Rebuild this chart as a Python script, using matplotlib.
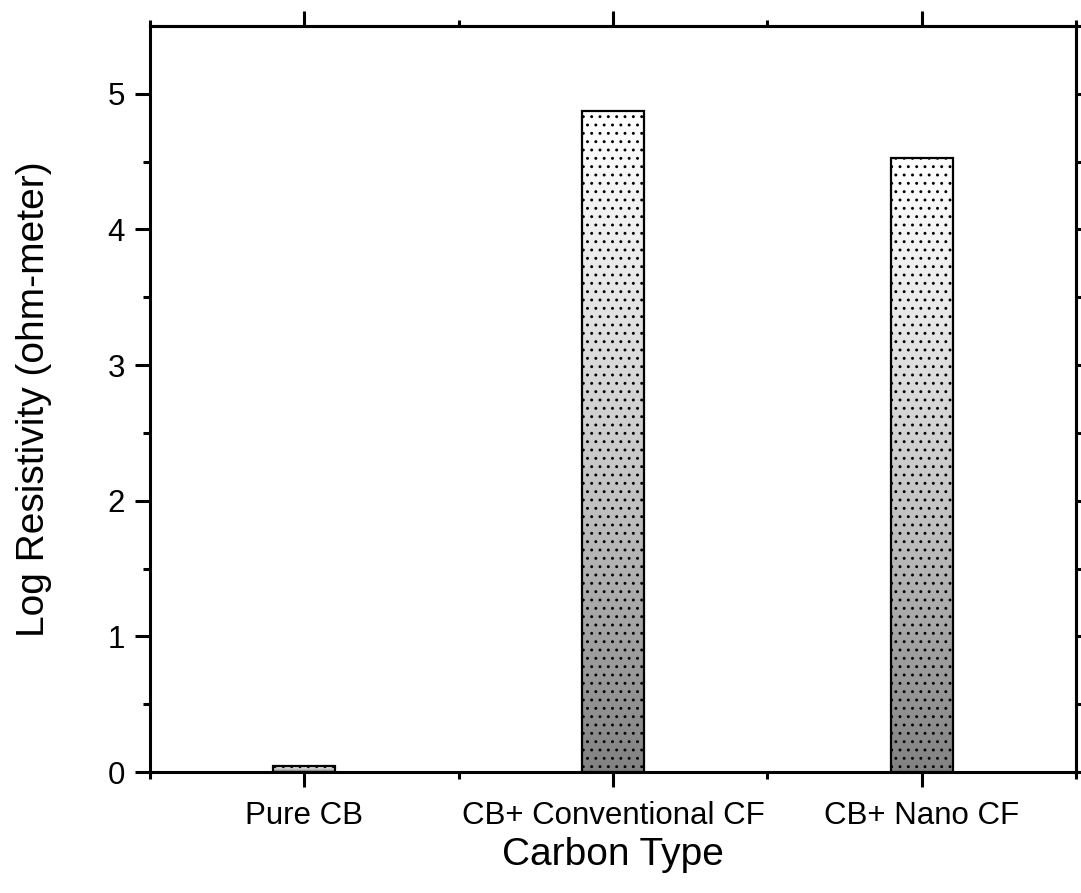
import numpy as np
import matplotlib
matplotlib.use("Agg")
import matplotlib.pyplot as plt
from matplotlib.colors import LinearSegmentedColormap

categories = ["Pure CB", "CB+ Conventional CF", "CB+ Nano CF"]
values = [0.045, 4.875, 4.53]

plt.rcParams['font.family'] = ['Liberation Sans', 'DejaVu Sans']
plt.rcParams['hatch.linewidth'] = 0.9
plt.rcParams['hatch.color'] = 'black'

fig = plt.figure(figsize=(10.81, 8.93), dpi=100)
ax = fig.add_axes([150/1081, 121/893, 926/1081, 746/893])

x = np.arange(1, len(categories) + 1)
width = 0.2
cmap = LinearSegmentedColormap.from_list(
    "g", [(0.0, "#828282"), (0.4, "#c0c0c0"), (0.75, "#e9e9e9"), (1.0, "#ffffff")])
grad = np.linspace(0, 1, 256).reshape(-1, 1)

bars = ax.bar(x, values, width=width, facecolor='none', edgecolor='black',
              linewidth=1.6, hatch='..', zorder=3)
for b in bars:
    x0, y0 = b.get_x(), b.get_y()
    w, h = b.get_width(), b.get_height()
    im = ax.imshow(grad, cmap=cmap, origin='lower', aspect='auto',
                   extent=[x0, x0 + w, y0, y0 + h], zorder=2)
    im.set_clip_path(b)

ax.set_xlim(0.5, 3.5)
ax.set_ylim(0, 5.5)
ax.set_xticks(x)
ax.set_xticklabels(categories)
ax.set_xticks([0.5, 1.5, 2.5, 3.5], minor=True)
ax.set_yticks(range(0, 6))
ax.set_yticks(np.arange(0.5, 5.5, 1.0), minor=True)

for s in ax.spines.values():
    s.set_linewidth(2.2)

ax.tick_params(axis='both', which='major', direction='out', length=10.5, width=2.2,
               labelsize=22.5)
ax.tick_params(axis='x', which='major', pad=10.5)
ax.tick_params(axis='y', which='major', pad=7.5)
ax.tick_params(axis='both', which='minor', direction='out', length=5, width=2.2)

top = ax.secondary_xaxis('top')
top.set_xticks(x)
top.set_xticks([0.5, 1.5, 2.5, 3.5], minor=True)
top.tick_params(which='major', direction='out', length=10.5, width=2.2, labeltop=False)
top.tick_params(which='minor', direction='out', length=4, width=2.2)
top.spines['top'].set_linewidth(2.2)

right = ax.secondary_yaxis('right')
right.set_yticks(np.arange(0, 5.51, 0.5))
right.tick_params(which='major', direction='out', length=4, width=2.2, labelright=False)
right.spines['right'].set_linewidth(2.2)

ax.set_xlabel("Carbon Type", fontsize=28, va='top')
ax.set_ylabel("Log Resistivity (ohm-meter)", fontsize=28)
ax.xaxis.set_label_coords(0.5, -0.087)
ax.yaxis.set_label_coords(-0.106, 0.5)

fig.savefig("out.png", dpi=100)
